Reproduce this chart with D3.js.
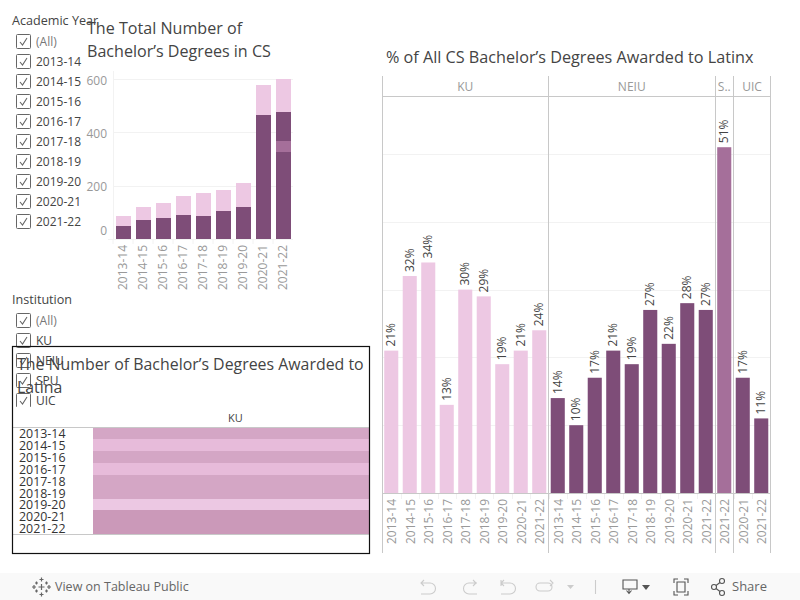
<!DOCTYPE html>
<html><head><meta charset="utf-8">
<script src="https://cdn.jsdelivr.net/npm/d3@7"></script>
<style>html,body{margin:0;padding:0;background:#fff;overflow:hidden}svg{display:block}text{font-family:"Open Sans",sans-serif}</style>
</head><body><svg id="c" width="800" height="600"></svg>
<script>
const years=["2013-14","2014-15","2015-16","2016-17","2017-18","2018-19","2019-20","2020-21","2021-22"];
const institutions=["KU","NEIU","SPU","UIC"];
// Stacked totals (bottom to top)
const neiuCounts=[49,71,79,90,86,105,120,300,326];
const spuCounts=[0,0,0,0,0,0,0,0,41];
const uicCounts=[0,0,0,0,0,0,0,165,109];
const kuCounts=[37,49,56,71,86,79,90,113,124];
// Share of Latinx
const kuPct=[21,32,34,13,30,29,19,21,24];
const neiuPct=[14,10,17,21,19,27,22,28,27];
const spuYears=["2021-22"],spuPct=[51];
const uicYears=["2020-21","2021-22"],uicPct=[17,11];
// KU Latina heat table
const kuLatinaColor=["#d4a6c5","#e7bbda","#d4a6c5","#e7bbda","#d4a6c5","#d4a6c5","#ecc8e3","#cb99b9","#cb99b9"];
const yTicks=[0,200,400,600];
const pctTicks=[.1,.2,.3,.4,.5];
const filterAll=["(All)"];
const colors={KU:"#edc8e3",NEIU:"#7e4d78",SPU:"#a56f9a",UIC:"#7e4d78"};

const svg=d3.select("#c");
const dark="#444",grey="#999",grid="#f2f2f2",rule="#c8c8c8";

// Filters
function checkbox(g,x,y){
  g.append("rect").attr("x",x+.5).attr("y",y+.5).attr("width",14).attr("height",14).attr("rx",1).attr("fill","#fff").attr("stroke","#666");
  g.append("path").attr("d",`M${x+4} ${y+8}l2.5 3l4.500-7`).attr("fill","none").attr("stroke","#666").attr("stroke-width",1.1);
}
function filter(title,items,titleY,firstRow,clipBottom,id){
  svg.append("defs").append("clipPath").attr("id",id).append("rect").attr("x",0).attr("y",titleY-14).attr("width",110).attr("height",clipBottom-titleY+14);
  const g=svg.append("g").attr("clip-path",`url(#${id})`);
  g.append("text").attr("x",12).attr("y",titleY).attr("font-size",12.6).attr("fill",dark).text(title);
  items.forEach((t,i)=>{
    const y=firstRow+20*i;
    checkbox(g,16,Math.floor(y-7));
    g.append("text").attr("x",36).attr("y",y+4).attr("font-size",12).attr("fill",i==0?"#777":dark).text(t);
  });
}
filter("Academic Year",filterAll.concat(years),25,41.5,240,"f1");
filter("Institution",filterAll.concat(institutions),304,320.5,407,"f2");

// Total chart
const x1=d3.scaleBand().domain(years).range([113,293]).paddingInner(.25).paddingOuter(.125);
const y1=d3.scaleLinear().domain([0,600]).range([239,79]);
const gl=svg.append("g");
gl.selectAll("line.g").data(yTicks.slice(1)).join("line").attr("x1",113).attr("x2",293).attr("y1",d=>Math.round(y1(d))+.5).attr("y2",d=>Math.round(y1(d))+.5).attr("stroke",grid);
gl.append("line").attr("x1",113.5).attr("x2",113.5).attr("y1",71).attr("y2",239).attr("stroke",grid);
gl.append("line").attr("x1",108).attr("x2",293).attr("y1",239.5).attr("y2",239.5).attr("stroke",grid);
gl.selectAll("line.t").data(years).join("line").attr("x1",d=>x1(d)-2.5).attr("x2",d=>x1(d)-2.5).attr("y1",239).attr("y2",244).attr("stroke",grid);
const stack=d3.stack().keys(["NEIU","SPU","UIC","KU"])(years.map((y,i)=>({y,NEIU:neiuCounts[i],SPU:spuCounts[i],UIC:uicCounts[i],KU:kuCounts[i]})));
gl.selectAll("g.s").data(stack).join("g").attr("fill",d=>colors[d.key]).attr("shape-rendering","crispEdges").selectAll("rect").data(d=>d).join("rect")
 .attr("x",d=>x1(d.data.y)).attr("width",x1.bandwidth()).attr("y",d=>y1(d[1])).attr("height",d=>y1(d[0])-y1(d[1]));
const ay=d3.axisLeft(y1).tickValues(yTicks).tickSize(0).tickPadding(6);
const ayg=gl.append("g").attr("transform","translate(113,0)").call(ay);
ayg.select(".domain").remove();
// Tableau nudges these labels to stay inside the pane
const yNudge={0:-8,200:1,400:1,600:2};
ayg.selectAll("text").attr("font-size",12).attr("fill",grey).attr("font-family",'"Open Sans",sans-serif').attr("y",d=>yNudge[d]);
const ax=d3.axisBottom(x1).tickSize(0);
const axg=gl.append("g").attr("transform","translate(0,239)").call(ax);
axg.select(".domain").remove();
axg.selectAll("text").attr("font-size",12).attr("fill",grey).attr("font-family",'"Open Sans",sans-serif').attr("transform","rotate(-90)").attr("text-anchor","end").attr("x",-6).attr("y",0).attr("dy",".35em");
svg.append("text").attr("x",87).attr("y",34).attr("font-size",16.1).attr("fill",dark).text("The Total Number of");
svg.append("text").attr("x",87).attr("y",57).attr("font-size",16.1).attr("fill",dark).text("Bachelor\u2019s Degrees in CS");

// Percent chart
const keys=[].concat(years.map(y=>"KU|"+y),years.map(y=>"NEIU|"+y),spuYears.map(y=>"SPU|"+y),uicYears.map(y=>"UIC|"+y));
const pct=[].concat(kuPct,neiuPct,spuPct,uicPct);
const rows=keys.map((k,i)=>({k,inst:k.split("|")[0],year:k.split("|")[1],v:pct[i]}));
const x2=d3.scaleBand().domain(keys).range([382,770.5]).paddingInner(.24).paddingOuter(.12);
const y2=d3.scaleLinear().domain([0,.5]).range([493,154]);
const gr=svg.append("g");
const gap2=(x2.step()-x2.bandwidth())/2;
gr.selectAll("line.g").data(pctTicks).join("line").attr("x1",383).attr("x2",770).attr("y1",d=>Math.round(y2(d))+.5).attr("y2",d=>Math.round(y2(d))+.5).attr("stroke",grid);
gr.selectAll("line.t").data(rows).join("line").attr("x1",d=>Math.round(x2(d.k)-gap2)+.5).attr("x2",d=>Math.round(x2(d.k)-gap2)+.5).attr("y1",494).attr("y2",499).attr("stroke",grid);
gr.selectAll("rect").data(rows).join("rect").attr("x",d=>x2(d.k)).attr("width",x2.bandwidth()).attr("y",d=>y2(d.v/100)).attr("height",d=>493-y2(d.v/100)).attr("fill",d=>colors[d.inst]);
gr.selectAll("text.v").data(rows).join("text").attr("class","v").attr("font-size",12).attr("fill",dark).attr("text-anchor","start")
 .attr("transform",d=>`translate(${x2(d.k)+x2.bandwidth()/2+4},${y2(d.v/100)-4}) rotate(-90)`).text(d=>d.v+"%");
const ax2=d3.axisBottom(x2).tickSize(0).tickFormat(k=>k.split("|")[1]);
const ax2g=gr.append("g").attr("transform","translate(0.7,493)").call(ax2);
ax2g.select(".domain").remove();
ax2g.selectAll("text").attr("font-size",12).attr("fill",grey).attr("font-family",'"Open Sans",sans-serif').attr("transform","rotate(-90)").attr("text-anchor","end").attr("x",-6).attr("y",0).attr("dy",".35em");
const panelSpans=institutions.map(inst=>{
  const ks=rows.filter(r=>r.inst==inst);
  return {inst,a:x2(ks[0].k)-gap2,b:x2(ks[ks.length-1].k)+x2.bandwidth()+gap2};
});
const bounds=[panelSpans[0].a].concat(panelSpans.map(p=>p.b));
gr.selectAll("line.p").data(bounds).join("line").attr("x1",d=>Math.floor(d)+.5).attr("x2",d=>Math.floor(d)+.5).attr("y1",76).attr("y2",553).attr("stroke",rule);
[96,493].forEach(y=>gr.append("line").attr("x1",382).attr("x2",770).attr("y1",y+.5).attr("y2",y+.5).attr("stroke",rule));
gr.selectAll("text.h").data(panelSpans).join("text").attr("class","h").attr("text-anchor","middle").attr("x",d=>(d.a+d.b)/2).attr("y",91).attr("font-size",12).attr("fill",grey).text(d=>d.inst=="SPU"?"S..":d.inst);
svg.append("text").attr("x",386).attr("y",63).attr("font-size",16.2).attr("fill",dark).text("% of All CS Bachelor\u2019s Degrees Awarded to Latinx");

// Heat table
const box=svg.append("g");
const y3=d3.scaleBand().domain(years).range([427.5,534]);
box.selectAll("rect.c").data(years).join("rect").attr("shape-rendering","crispEdges").attr("x",93).attr("width",276).attr("y",d=>y3(d)).attr("height",y3.bandwidth()+.6).attr("fill",(d,i)=>kuLatinaColor[i]);
[427,534].forEach(y=>box.append("line").attr("x1",13).attr("x2",369).attr("y1",y+.5).attr("y2",y+.5).attr("stroke",rule));
box.selectAll("text.y").data(years).join("text").attr("x",19).attr("y",d=>y3(d)+y3.bandwidth()/2+5).attr("font-size",12.4).attr("fill","#333").attr("font-family","Liberation Sans").text(d=>d);
box.append("text").attr("x",235.5).attr("y",422).attr("text-anchor","middle").attr("font-size",11).attr("fill",dark).text("KU");
box.append("rect").attr("x",12.5).attr("y",346.5).attr("width",357).attr("height",207).attr("fill","none").attr("stroke","#111").attr("stroke-width",1.2);
box.append("text").attr("x",17).attr("y",370).attr("font-size",15.9).attr("fill",dark).text("The Number of Bachelor\u2019s Degrees Awarded to");
box.append("text").attr("x",17).attr("y",393).attr("font-size",15.9).attr("fill",dark).text("Latina");

// Toolbar
const tb=svg.append("g");
tb.append("rect").attr("x",0).attr("y",573).attr("width",800).attr("height",27).attr("fill","#f9f9f9");
const tico=tb.append("g").attr("fill","none").attr("stroke","#666").attr("stroke-width",1.2);
[[41.5,579.5,4],[41.5,594.5,4],[34,587,4],[49,587,4],[41.5,587,6],[36.5,583,3],[46.5,583,3],[36.5,591,3],[46.5,591,3]].forEach(([x,y,r])=>{
  tico.append("path").attr("d",`M${x-r/2} ${y}h${r}M${x} ${y-r/2}v${r}`);
});
tb.append("text").attr("x",55).attr("y",591).attr("font-size",12.5).attr("fill","#666").attr("font-family","Inter").text("View on Tableau Public");
tb.append("text").attr("x",732).attr("y",591).attr("font-size",13).attr("font-weight",500).attr("fill","#666").attr("font-family","Inter").text("Share");
const off=tb.append("g").attr("fill","none").attr("stroke","#ccc").attr("stroke-width",1.1);
off.append("path").attr("d","M421 583h9a5.500 5.500 0 0 1 0 11h-9M424 580l-3 3l3 3");
off.append("path").attr("d","M477 583h-8a5.500 5.500 0 0 0 0 11h8M473 580l3 3l-3 3");
off.append("path").attr("d","M501 580v6M501 583h9a5.500 5.500 0 0 1 0 11h-9M504 580l-3 3l3 3");
off.append("path").attr("d","M540 583h8a4 4 0 0 1 0 8h-8a4 4 0 0 1 0-8M550 580l3 3l-3 3");
off.append("path").attr("d","M595.500 580v14");
tb.append("path").attr("d","M567 585h7l-3.500 4z").attr("fill","#ccc");
const on=tb.append("g").attr("fill","none").attr("stroke","#555").attr("stroke-width",1.1);
on.append("path").attr("d","M623 580h14v9h-14zM629 589v4M626.500 590.500l2.500 3l2.500-3");
tb.append("path").attr("d","M642 585h8l-4 5z").attr("fill","#555");
on.append("path").attr("d","M674 583v-4h4M684 579h4v4M688 591v4h-4M678 595h-4v-4M677 582h8v10h-8z");
on.append("circle").attr("cx",714).attr("cy",587).attr("r",2.5);
on.append("circle").attr("cx",722).attr("cy",581).attr("r",2.5);
on.append("circle").attr("cx",722).attr("cy",593).attr("r",2.5);
on.append("path").attr("d","M716 585.500l4-3M716 588.500l4 3");
</script></body></html>
